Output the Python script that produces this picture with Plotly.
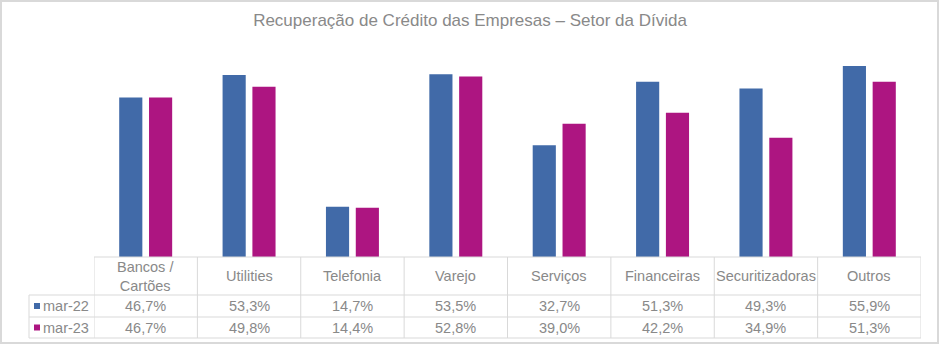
import plotly.graph_objects as go

categories = ["Bancos /<br>Cartões", "Utilities", "Telefonia", "Varejo", "Serviços",
              "Financeiras", "Securitizadoras", "Outros"]
series_names = ["mar-22", "mar-23"]
mar22 = [46.7, 53.3, 14.7, 53.5, 32.7, 51.3, 49.3, 55.9]
mar23 = [46.7, 49.8, 14.4, 52.8, 39.0, 42.2, 34.9, 51.3]
colors = ["#416AA8", "#AD1581"]
title = "Recuperação de Crédito das Empresas – Setor da Dívida"

W, H = 940, 347
L, R, T, B = 94, 19, 52, 90
pw, ph = W - L - R, H - T - B

def px(x):
    return (x - L) / pw

def py(y):
    return (H - B - y) / ph

FONT = "Liberation Sans, Arial, sans-serif"
GRAY = "#898989"
LINE = "#D9D9D9"
FS = 14.5

fig = go.Figure()
for name, vals, col in zip(series_names, [mar22, mar23], colors):
    fig.add_trace(go.Bar(x=list(range(len(categories))), y=vals, name=name,
                         marker=dict(color=col, line=dict(width=0))))

ann = []
shapes = []
# header labels
for i, c in enumerate(categories):
    ann.append(dict(x=i, y=py(276), xref="x", yref="paper", text=c, showarrow=False,
                    font=dict(family=FONT, size=FS, color=GRAY), xanchor="center", yanchor="middle"))
rows_y = [306, 327.5]
for r, (name, vals, col) in enumerate(zip(series_names, [mar22, mar23], colors)):
    for i, v in enumerate(vals):
        ann.append(dict(x=i, y=py(rows_y[r]), xref="x", yref="paper",
                        text=f"{v:.1f}%".replace(".", ","), showarrow=False,
                        font=dict(family=FONT, size=FS, color=GRAY), xanchor="center", yanchor="middle"))
    ann.append(dict(x=px(41), y=py(rows_y[r]), xref="paper", yref="paper", text=name, showarrow=False,
                    font=dict(family=FONT, size=FS, color=GRAY), xanchor="left", yanchor="middle"))
    shapes.append(dict(type="rect", xref="paper", yref="paper",
                       x0=px(34), x1=px(40), y0=py(rows_y[r] - 3), y1=py(rows_y[r] + 3),
                       fillcolor=col, line=dict(width=0)))

# table grid
for yy in [257, 295, 317, 338]:
    x0 = 94 if yy == 257 else 29
    shapes.append(dict(type="line", xref="paper", yref="paper", x0=px(x0), x1=px(921),
                       y0=py(yy), y1=py(yy), line=dict(color=LINE, width=1)))
for k in range(len(categories) + 1):
    shapes.append(dict(type="line", xref="x", yref="paper", x0=k - 0.5, x1=k - 0.5,
                       y0=py(257), y1=py(338), line=dict(color=LINE, width=1)))
shapes.append(dict(type="line", xref="paper", yref="paper", x0=px(29), x1=px(29),
                   y0=py(295), y1=py(338), line=dict(color=LINE, width=1)))
# outer border
shapes.append(dict(type="rect", xref="paper", yref="paper", x0=px(1), x1=px(938),
                   y0=py(343), y1=py(1), line=dict(color=LINE, width=2), fillcolor="rgba(0,0,0,0)"))

fig.update_layout(
    width=W, height=H,
    margin=dict(l=L, r=R, t=T, b=B),
    paper_bgcolor="white", plot_bgcolor="white",
    barmode="group", bargap=0.423, bargroupgap=0.224,
    showlegend=False,
    title=dict(text=title, x=470 / W, xref="container", y=1 - 20 / H, yanchor="middle", xanchor="center",
               font=dict(family=FONT, size=17, color=GRAY)),
    xaxis=dict(range=[-0.5, len(categories) - 0.5], showticklabels=False, showgrid=False,
               zeroline=False, showline=False, ticks=""),
    yaxis=dict(range=[0, 60], visible=False),
    annotations=ann, shapes=shapes,
)
fig.write_html("out.html")
